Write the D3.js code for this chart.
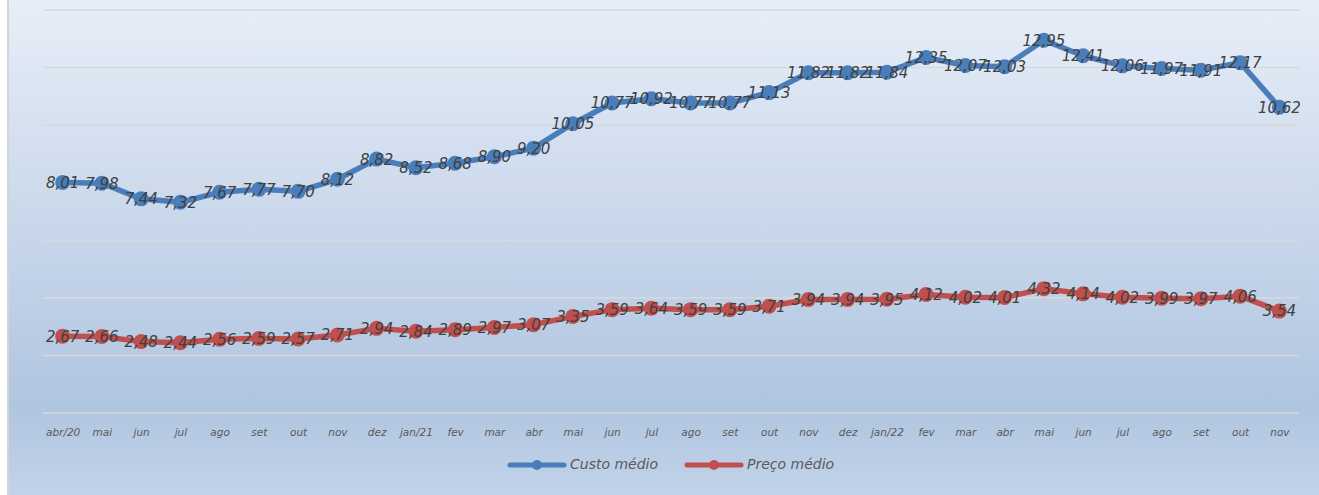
<!DOCTYPE html>
<html>
<head>
<meta charset="utf-8">
<script src="https://cdn.jsdelivr.net/npm/d3@7"></script>
<style>
  body { margin: 0; background: #ffffff; }
  svg { display: block; }
</style>
</head>
<body>
<svg id="chart"></svg>
<script>
// month labels along the x axis
var months = ["abr/20","mai","jun","jul","ago","set","out","nov","dez","jan/21",
              "fev","mar","abr","mai","jun","jul","ago","set","out","nov","dez","jan/22",
              "fev","mar","abr","mai","jun","jul","ago","set","out","nov"];

var custoMedio = [8.01,7.98,7.44,7.32,7.67,7.77,7.70,8.12,8.82,8.52,
                  8.68,8.90,9.20,10.05,10.77,10.92,10.77,10.77,11.13,11.82,11.82,11.84,
                  12.35,12.07,12.03,12.95,12.41,12.06,11.97,11.91,12.17,10.62];

var precoMedio = [2.67,2.66,2.48,2.44,2.56,2.59,2.57,2.71,2.94,2.84,
                  2.89,2.97,3.07,3.35,3.59,3.64,3.59,3.59,3.71,3.94,3.94,3.95,
                  4.12,4.02,4.01,4.32,4.14,4.02,3.99,3.97,4.06,3.54];

var seriesNames = ["Custo médio","Preço médio"];
var yTicks = [0,2,4,6,8,10,12,14];

var W = 1319, H = 495;
var svg = d3.select("#chart").attr("width",W).attr("height",H);

var defs = svg.append("defs");
var grad = defs.append("linearGradient").attr("id","bg")
               .attr("x1",0).attr("y1",0).attr("x2",0).attr("y2",1);
grad.append("stop").attr("offset","0%").attr("stop-color","#e7eef8");
grad.append("stop").attr("offset","82%").attr("stop-color","#b0c5e0");
grad.append("stop").attr("offset","100%").attr("stop-color","#c2d3e9");

// chart area background + left border
svg.append("rect").attr("x",9).attr("y",0).attr("width",W-9).attr("height",H)
   .attr("fill","url(#bg)");
svg.append("line").attr("x1",8).attr("x2",8).attr("y1",0).attr("y2",H)
   .attr("stroke","#d4d4d4").attr("stroke-width",2);

var margins = {left:43, right:20, top:10, bottom:82};

var xScale = d3.scalePoint()
               .domain(d3.range(months.length))
               .range([margins.left, W-margins.right])
               .padding(0.5);

var yScale = d3.scaleLinear()
               .domain([0,14])
               .range([H-margins.bottom, margins.top]);

// gridlines
svg.append("g").classed("grid",true)
   .selectAll("line")
   .data(yTicks)
   .enter()
   .append("line")
   .attr("x1",margins.left)
   .attr("x2",W-margins.right)
   .attr("y1",function(d){return yScale(d)})
   .attr("y2",function(d){return yScale(d)})
   .attr("stroke","#d9d9d9")
   .attr("stroke-width",1.5);

// x axis labels
var xAxis = d3.axisBottom(xScale)
              .tickSize(0)
              .tickFormat(function(i){return months[i]});

var xg = svg.append("g").classed("xAxis",true)
            .attr("transform","translate(0,"+(yScale(0)+13)+")")
            .call(xAxis);
xg.select(".domain").remove();
xg.selectAll("text")
  .attr("font-family","'DejaVu Sans', sans-serif")
  .attr("font-style","italic")
  .attr("font-size","10.5px")
  .attr("fill","#595959");

var colors = ["#4a7ebb","#c0504d"];
var allSeries = [custoMedio, precoMedio];

var line = d3.line()
             .x(function(d,i){return xScale(i)})
             .y(function(d){return yScale(d)});

var fmt = function(v){return v.toFixed(2).replace(".",",")};

allSeries.forEach(function(values,s)
{
  var g = svg.append("g").classed("series",true);
  g.append("path")
   .datum(values)
   .attr("d",line)
   .attr("fill","none")
   .attr("stroke",colors[s])
   .attr("stroke-width",5.5)
   .attr("stroke-linejoin","round");
  g.selectAll("circle")
   .data(values)
   .enter()
   .append("circle")
   .attr("cx",function(d,i){return xScale(i)})
   .attr("cy",function(d){return yScale(d)})
   .attr("r",7.5)
   .attr("fill",colors[s]);
  g.selectAll("text")
   .data(values)
   .enter()
   .append("text")
   .attr("x",function(d,i){return xScale(i)})
   .attr("y",function(d){return yScale(d)})
   .attr("dy","0.36em")
   .attr("text-anchor","middle")
   .attr("font-family","'DejaVu Sans', sans-serif")
   .attr("font-style","italic")
   .attr("font-size","15px")
   .attr("fill","#404040")
   .text(fmt);
});

// legend
var legend = svg.append("g").classed("legend",true)
                .attr("transform","translate(510,464)");
var legendPos = [0,177];
var items = legend.selectAll("g")
                  .data(seriesNames)
                  .enter()
                  .append("g")
                  .attr("transform",function(d,i){return "translate("+legendPos[i]+",0)"});
items.append("line")
     .attr("x1",0).attr("x2",54).attr("y1",1).attr("y2",1)
     .attr("stroke",function(d,i){return colors[i]})
     .attr("stroke-width",5)
     .attr("stroke-linecap","round");
items.append("circle")
     .attr("cx",27).attr("cy",1).attr("r",5)
     .attr("fill",function(d,i){return colors[i]});
items.append("text")
     .attr("x",60).attr("y",0)
     .attr("dy","0.36em")
     .attr("font-family","'DejaVu Sans', sans-serif")
     .attr("font-style","italic")
     .attr("font-size","14px")
     .attr("fill","#595959")
     .text(function(d){return d});
</script>
</body>
</html>
